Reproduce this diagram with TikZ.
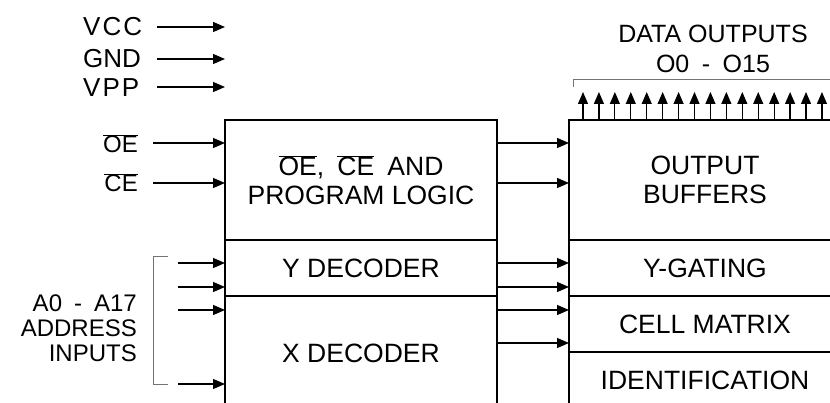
\documentclass[tikz,border=0pt]{standalone}
\usepackage{fontspec}
\setmainfont{Liberation Sans}
\usetikzlibrary{arrows.meta, positioning}
\definecolor{bracketgrey}{rgb}{0.45, 0.45, 0.45}
\newcommand{\activelow}[1]{$\overline{\mbox{#1}}$}
\tikzset{block/.style={draw, rectangle, line width=2.6pt, inner sep=0pt, outer sep=0pt, minimum width=272pt, anchor=north west, align=center, font=\fontsize{26.5}{29}\selectfont}}
\tikzset{lbl/.style={inner sep=0pt, font=\fontsize{26}{30}\selectfont}}
\tikzset{sig/.style={color=black, line width=1.3pt, -{Triangle[length=12pt, width=10pt]}}}
\tikzset{dout/.style={color=black, line width=1.2pt, -{Triangle[length=12pt, width=10pt]}}}
\tikzset{brace/.style={color=bracketgrey, line width=1pt}}

\begin{document}
\begin{tikzpicture}[x=1pt, y=-1pt]
    \useasboundingbox (0,0) rectangle (830,403);
    \clip (0,0) rectangle (830,403);

    % left column
    \node[block, minimum height=120pt] (logic) at (225,120)
    {\activelow{OE},\enspace\activelow{CE}\enspace AND\\PROGRAM LOGIC};
    \node[block, minimum height=56pt] (ydec) at (logic.south west) {Y DECODER};
    \node[block, minimum height=114pt] (xdec) at (ydec.south west) {X DECODER};

    % right column
    \node[block, minimum height=120pt] (buffers) at (569,120) {OUTPUT\\BUFFERS};
    \node[block, minimum height=56pt] (ygate) at (buffers.south west) {Y-GATING};
    \node[block, minimum height=56pt] (matrix) at (ygate.south west) {CELL MATRIX};
    \node[block, minimum height=56pt] (ident) at (matrix.south west) {IDENTIFICATION};

    % labels
    \node[lbl, anchor=west] (vcc) at (83,27) {V\kern2pt C\kern2pt C};
    \node[lbl, anchor=west] (gnd) at (83,59) {GND};
    \node[lbl, anchor=west] (vpp) at (83,88) {V\kern2pt P\kern2pt P};
    \node[lbl, anchor=base east, font=\fontsize{24}{28}\selectfont] (oe) at (138,153) {\activelow{OE}};
    \node[lbl, anchor=base east, font=\fontsize{24}{28}\selectfont] (ce) at (138,192) {\activelow{CE}};
    \node[lbl, anchor=east, align=right, font=\fontsize{24}{25}\selectfont] (addr) at (137,328)
    {A0\enspace-\enspace A17\\ADDRESS\\INPUTS};
    \node[lbl, align=center, font=\fontsize{25}{30}\selectfont] (dlabel) at (713,49)
    {DATA OUTPUTS\\O0\enspace-\enspace O15};

    % supply pins
    \foreach \y [count=\i] in {27,59,87} {
        \coordinate (p\i) at (157,\y);
        \draw [sig] (p\i) -- (p\i -| logic.west);
    }

    % control lines
    \coordinate (oeline) at (153,143);
    \coordinate (celine) at (153,183);
    \draw [sig] (oeline) -- (oeline -| logic.west);
    \draw [sig] (celine) -- (celine -| logic.west);
    \draw [sig] (oeline -| logic.east) -- (oeline -| buffers.west);
    \draw [sig] (celine -| logic.east) -- (celine -| buffers.west);

    % address lines
    \foreach \y [count=\i] in {263,287,310,384} {
        \coordinate (a\i) at (178,\y);
        \draw [sig] (a\i) -- (a\i -| xdec.west);
    }
    \draw [brace] (168,257) -- (153,257) -- (153,384) -- (168,384);

    % decoder outputs
    \foreach \y [count=\i] in {263,287,310,343} {
        \coordinate (d\i) at (0,\y);
        \draw [sig] (d\i -| ydec.east) -- (d\i -| ygate.west);
    }

    % data outputs
    \foreach \i in {0,...,15} {
        \coordinate (q\i) at ({583+15.93*\i},92);
        \draw [dout] (q\i |- buffers.north) -- (q\i);
    }
    \draw [brace] (573,87) -- (573,80) -- (830,80);
\end{tikzpicture}
\end{document}
